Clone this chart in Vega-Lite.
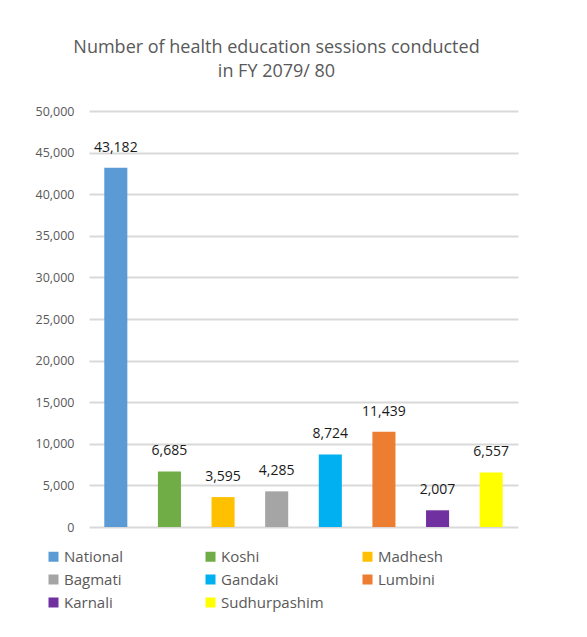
{
  "$schema": "https://vega.github.io/schema/vega-lite/v6.json",
  "autosize": "none",
  "width": 429,
  "height": 416,
  "padding": {"left": 89, "top": 111, "right": 69, "bottom": 110},
  "background": "white",
  "title": {
    "text": ["Number of health education sessions conducted", "in FY 2079/ 80"],
    "anchor": "middle",
    "dx": -27,
    "offset": 24,
    "font": "Open Sans",
    "fontSize": 18,
    "fontWeight": "normal",
    "color": "#595959",
    "lineHeight": 24
  },
  "config": {
    "view": {"stroke": null},
    "font": "Open Sans"
  },
  "data": {
    "values": [
      {"region": "National", "sessions": 43182},
      {"region": "Koshi", "sessions": 6685},
      {"region": "Madhesh", "sessions": 3595},
      {"region": "Bagmati", "sessions": 4285},
      {"region": "Gandaki", "sessions": 8724},
      {"region": "Lumbini", "sessions": 11439},
      {"region": "Karnali", "sessions": 2007},
      {"region": "Sudhurpashim", "sessions": 6557}
    ]
  },
  "encoding": {
    "x": {
      "field": "region",
      "type": "nominal",
      "sort": null,
      "axis": null,
      "scale": {"paddingInner": 0.57, "paddingOuter": 0.285}
    },
    "y": {
      "field": "sessions",
      "type": "quantitative",
      "scale": {"domain": [0, 50000], "nice": false},
      "axis": {
        "title": null,
        "values": [0, 5000, 10000, 15000, 20000, 25000, 30000, 35000, 40000, 45000, 50000],
        "format": ",d",
        "domain": false,
        "ticks": false,
        "grid": true,
        "gridColor": "#d9d9d9",
        "gridWidth": 2,
        "labelFontSize": 12.5,
        "labelColor": "#595959",
        "labelPadding": 15,
        "labelFont": "Open Sans"
      }
    }
  },
  "layer": [
    {
      "mark": {"type": "bar"},
      "encoding": {
        "color": {
          "field": "region",
          "type": "nominal",
          "scale": {
            "domain": ["National", "Koshi", "Madhesh", "Bagmati", "Gandaki", "Lumbini", "Karnali", "Sudhurpashim"],
            "range": ["#5B9BD5", "#70AD47", "#FFC000", "#A5A5A5", "#00B0F0", "#ED7D31", "#7030A0", "#FFFF00"]
          },
          "legend": {
            "title": null,
            "orient": "none",
            "direction": "horizontal",
            "legendX": -43,
            "legendY": 438,
            "columns": 3,
            "gridAlign": "all",
            "columnPadding": 36,
            "rowPadding": 7,
            "symbolType": "square",
            "symbolSize": 100,
            "symbolStrokeWidth": 0,
            "labelFontSize": 15,
            "labelColor": "#595959",
            "labelFont": "Open Sans",
            "labelOffset": 3
          }
        }
      }
    },
    {
      "mark": {"type": "text", "baseline": "bottom", "dy": -13, "fontSize": 14, "color": "#1a1a1a", "font": "Open Sans"},
      "encoding": {
        "text": {"field": "sessions", "type": "quantitative", "format": ",d"}
      }
    }
  ]
}
